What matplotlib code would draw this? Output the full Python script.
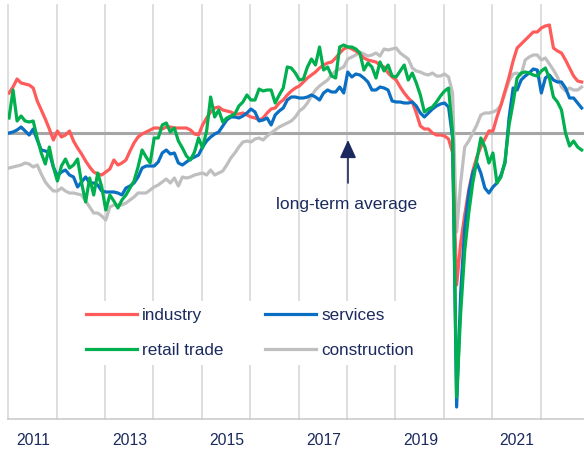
import numpy as np
import matplotlib
matplotlib.use("Agg")
import matplotlib.pyplot as plt
from matplotlib.lines import Line2D

# Monthly readings from Jan 2011, deviation from the long-term average (index points x10)
industry = [40, 46, 54, 50, 49, 48, 45, 32, 23, 14, 4, -7, 2, -4, -2, 2, -8, -15, -21, -28,
            -34, -39, -41, -42, -39, -36, -27, -32, -30, -27, -18, -10, -4, -1, 1, 3, 5, 5, 4, 6,
            6, 5, 5, 5, 5, 3, -1, -2, 8, 15, 21, 25, 26, 23, 22, 21, 19, 19, 20, 18,
            16, 15, 13, 15, 20, 24, 25, 30, 33, 38, 42, 45, 47, 51, 55, 58, 61, 65, 68, 70,
            71, 75, 80, 84, 86, 84, 82, 79, 75, 73, 72, 71, 68, 66, 60, 56, 53, 46, 40, 35,
            31, 20, 7, 4, 4, 0, -2, -2, -3, -6, -20, -152, -110, -82, -57, -38, -24, -14, -6, 2,
            2, 16, 28, 42, 56, 72, 85, 89, 93, 97, 101, 101, 105, 107, 108, 85, 82, 80, 73, 65,
            57, 52, 51]
services = [0, 1, 3, 6, 2, -2, 4, -7, -17, -18, -20, -34, -43, -39, -37, -42, -44, -54, -49, -44,
            -50, -50, -52, -58, -59, -59, -59, -60, -62, -55, -53, -50, -44, -35, -33, -33, -33, -29, -20, -17,
            -21, -20, -30, -32, -29, -26, -24, -22, -14, -8, -4, -1, 1, 7, 13, 16, 16, 15, 17, 20,
            24, 21, 12, 13, 15, 8, 18, 22, 25, 33, 36, 36, 35, 35, 36, 38, 36, 33, 40, 43,
            41, 41, 46, 40, 61, 56, 59, 58, 55, 51, 43, 43, 46, 45, 43, 32, 31, 31, 30, 30,
            31, 27, 20, 16, 20, 24, 27, 29, 30, 26, -5, -274, -160, -95, -60, -40, -30, -40, -55, -60,
            -54, -50, -42, -30, 15, 45, 43, 53, 57, 60, 64, 63, 40, 55, 58, 53, 51, 51, 45, 35,
            35, 30, 25]
retail_trade = [15, 43, 12, 17, 12, 11, 12, -5, -20, -31, -14, -34, -48, -33, -26, -35, -32, -26, -50, -69,
                -45, -62, -40, -54, -77, -62, -68, -75, -67, -62, -55, -48, -34, -17, -24, -30, -5, -5, 8, 10,
                1, 5, -8, -15, -23, -27, -19, -5, -15, 2, 36, 16, 23, 11, 15, 17, 19, 27, 31, 38,
                33, 33, 44, 42, 43, 43, 30, 38, 45, 66, 65, 60, 53, 54, 66, 74, 68, 86, 63, 66,
                57, 55, 86, 88, 86, 86, 84, 80, 63, 70, 66, 55, 71, 62, 68, 57, 56, 62, 68, 53,
                60, 50, 38, 21, 24, 26, 31, 37, 42, 45, 0, -264, -180, -118, -80, -50, -27, -5, -14, -30,
                -20, -50, -44, -28, 8, 30, 55, 60, 61, 60, 58, 57, 62, 65, 55, 36, 31, 23, 0, -13,
                -8, -14, -17]
construction = [-35, -34, -33, -32, -30, -31, -34, -32, -41, -49, -54, -58, -58, -55, -58, -60, -60, -61, -62, -68,
                -74, -80, -80, -83, -87, -74, -72, -72, -72, -70, -67, -64, -60, -60, -60, -57, -54, -52, -49, -46,
                -50, -45, -53, -44, -45, -44, -42, -41, -40, -42, -37, -42, -40, -38, -32, -25, -20, -14, -9, -8,
                -9, -6, -5, -7, -3, 0, 3, 6, 8, 10, 12, 16, 22, 25, 30, 37, 43, 47, 50, 53,
                58, 62, 64, 66, 74, 76, 78, 81, 79, 77, 78, 80, 77, 84, 83, 84, 85, 80, 77, 74,
                65, 62, 61, 59, 58, 60, 57, 57, 59, 56, 40, -99, -50, -14, -8, 0, 8, 18, 20, 20,
                21, 23, 28, 40, 52, 59, 60, 58, 73, 76, 78, 78, 73, 75, 69, 63, 56, 46, 42, 45,
                43, 43, 46]

year_labels = ["2011", "2013", "2015", "2017", "2019", "2021"]
series_names = ["industry", "services", "retail trade", "construction"]
series_colors = ["#FF5B5B", "#0A6FC2", "#00B04F", "#BFBFBF"]

NAVY = "#1B2A5E"
plt.rcParams["font.family"] = ["Liberation Sans", "DejaVu Sans"]

fig = plt.figure(figsize=(5.84, 4.51), dpi=100)
ax = fig.add_axes([8.2 / 584, (451 - 419) / 451, (587.7 - 8.2) / 584, (419 - 5) / 451])

months = np.arange(len(industry))

# year gridlines
for j in range(13):
    ax.axvline(12 * j - 0.2, color="#D4D4D4", lw=1.1, zorder=0, clip_on=False)
ax.axhline(0, color="#A6A6A6", lw=2.2, zorder=1)

data = {"industry": industry, "services": services,
        "retail trade": retail_trade, "construction": construction}
draw_order = ["construction", "industry", "services", "retail trade"]
for name in draw_order:
    c = series_colors[series_names.index(name)]
    ax.plot(months, data[name], color=c, lw=2.3, zorder=3, solid_joinstyle="round")

ax.set_xlim(-0.2, 143.5)
ax.set_ylim(-286, 128)

for s in ["top", "left", "right"]:
    ax.spines[s].set_visible(False)
ax.spines["bottom"].set_color("#C8C8C8")
ax.spines["bottom"].set_linewidth(1.1)
ax.set_yticks([])
ax.set_xticks([12 * i + 6 for i in range(0, 12, 2)])
ax.set_xticklabels(year_labels, fontsize=11.3, color=NAVY)
ax.tick_params(axis="x", length=0, pad=10)

# long-term average marker
ax.annotate("", xy=(84.06, -7), xytext=(84.06, -50),
            arrowprops=dict(arrowstyle="-|>,head_length=1.1,head_width=0.5",
                            color=NAVY, lw=1.2, shrinkA=0, shrinkB=0, mutation_scale=10),
            zorder=5)
ax.text(83.8, -71, "long-term average", ha="center", va="center", fontsize=12.5, color=NAVY)

handles = []
labels = []
for name in ["industry", "retail trade", "services", "construction"]:
    c = series_colors[series_names.index(name)]
    handles.append(Line2D([], [], color=c, lw=2.3))
    labels.append(name)
leg = ax.legend(handles, labels, ncol=2, loc="upper left",
                bbox_to_anchor=(79 / 584, 1 - 301 / 451), bbox_transform=fig.transFigure,
                fontsize=12.3, handlelength=3.0, handletextpad=0.3, columnspacing=2.4,
                labelspacing=1.2, borderpad=0.4, borderaxespad=0,
                frameon=True, framealpha=1, facecolor="white", edgecolor="none", fancybox=False)
for t in leg.get_texts():
    t.set_color(NAVY)
leg.set_zorder(4)

fig.savefig("out.png", dpi=100)
